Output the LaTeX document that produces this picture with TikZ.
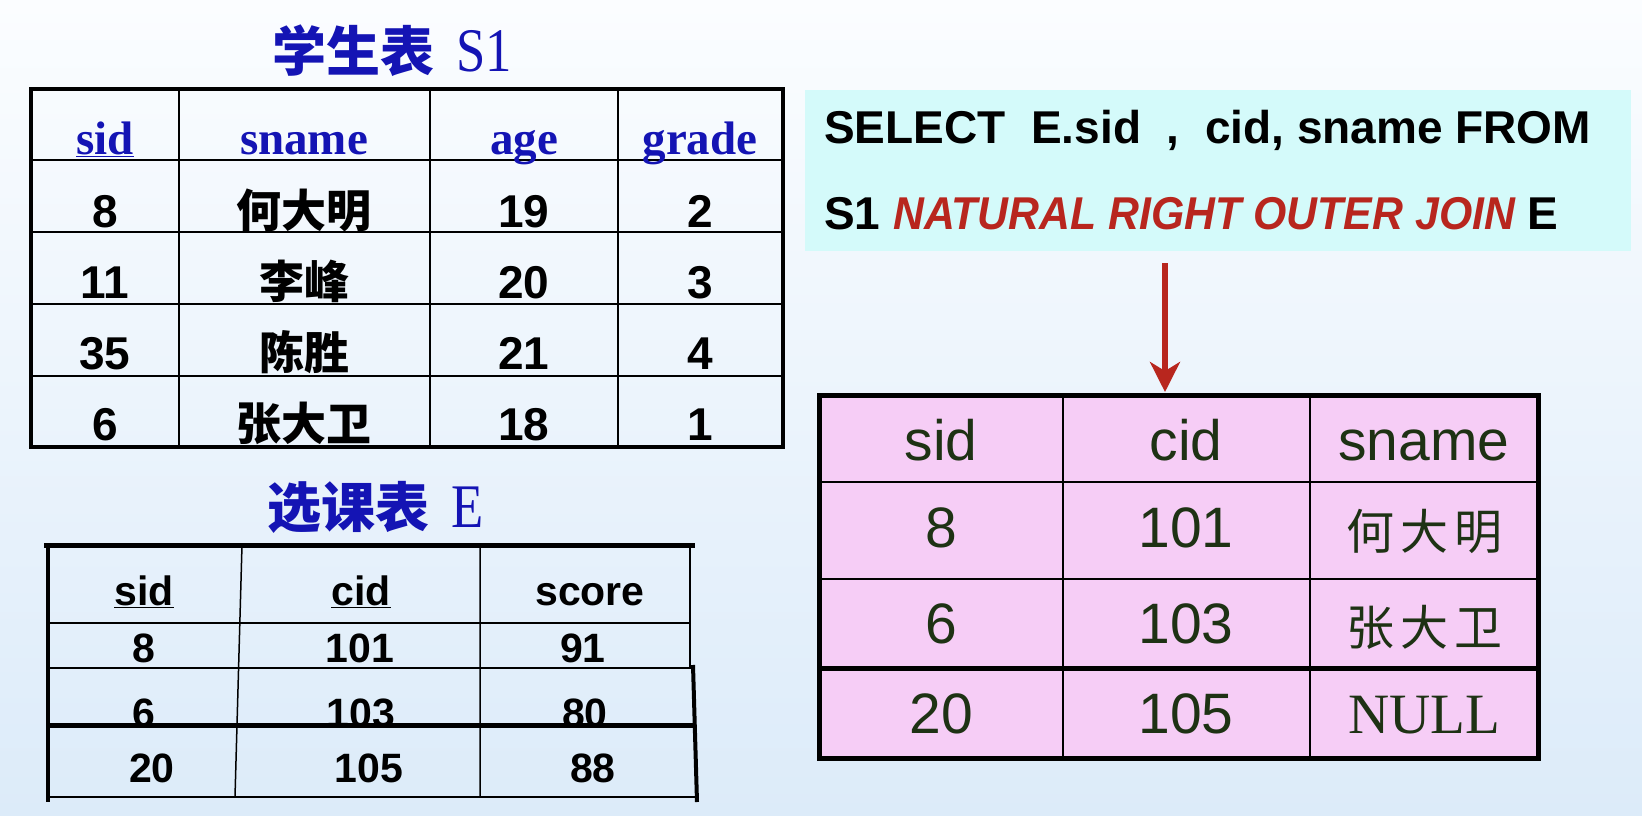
\documentclass[tikz,border=0pt]{standalone}
\usepackage{fontspec}
\setmainfont{Liberation Sans}
\newfontfamily\timesf{Liberation Serif}
\newfontfamily\cjkf{Noto Sans CJK SC}
\usetikzlibrary{arrows.meta}
\definecolor{ttlblue}{HTML}{1414B4}
\definecolor{sqlred}{HTML}{B8261E}
\definecolor{sqlfill}{HTML}{D4FAFA}
\definecolor{pinkfill}{HTML}{F6CDF6}
\definecolor{restext}{HTML}{1E3214}
\definecolor{bgtop}{HTML}{FBFDFF}
\definecolor{bgbot}{HTML}{DCEBF9}

\begin{document}
\begin{tikzpicture}[x=1pt,y=-1pt,
    ttl/.style={font=\bfseries\fontsize{54}{58}\selectfont,text=ttlblue,inner sep=0pt},
    hdr/.style={font=\timesf\bfseries\fontsize{47}{50}\selectfont,text=ttlblue,anchor=base,inner sep=0pt},
    num/.style={font=\bfseries\fontsize{46}{50}\selectfont,anchor=base,inner sep=0pt},
    hanz/.style={font=\cjkf\bfseries\fontsize{45}{50}\selectfont,anchor=base,inner sep=0pt},
    enum/.style={font=\bfseries\fontsize{41}{46}\selectfont,anchor=base,inner sep=0pt},
    sqltxt/.style={font=\bfseries\fontsize{46}{50}\selectfont,anchor=base west,inner sep=0pt},
    res/.style={font=\fontsize{57}{60}\selectfont,text=restext,anchor=base,inner sep=0pt},
    reshz/.style={font=\cjkf\fontsize{48}{52}\selectfont,text=restext,anchor=base,inner sep=0pt},
    thick/.style={line width=4pt},
    thin/.style={line width=2.2pt},
    redarr/.style={draw=sqlred,line width=6pt,-{Stealth[length=30pt,width=30pt,inset=9pt]}}]
    \useasboundingbox (0,0) rectangle (1642,816);
    \shade[top color=bgtop,bottom color=bgbot] (0,0) rectangle (1642,816);

    % student table S1
    \node[ttl] (s1title) at (392,51) {{\cjkf 学生表}\hspace{22pt}{\timesf\mdseries\fontsize{62}{64}\selectfont\scalebox{0.85}[1]{S1}}};
    \draw[thin] (179,89) -- (179,447) (430,89) -- (430,447) (618,89) -- (618,447)
        (31,160) -- (783,160) (31,232) -- (783,232) (31,304) -- (783,304) (31,376) -- (783,376);
    \draw[thick] (31,89) rectangle (783,447);
    \path (105,154) node[hdr] (h1) {\underline{sid}}
        (304,154) node[hdr] (h2) {sname}
        (524,154) node[hdr] (h3) {age}
        (700,154) node[hdr] (h4) {grade}
        (105,227) node[num] (a1) {8}
        (304,227) node[hanz] (b1) {何大明}
        (524,227) node[num] (c1) {19}
        (700,227) node[num] (d1) {2}
        (105,298) node[num] (a2) {11}
        (304,298) node[hanz] (b2) {李峰}
        (524,298) node[num] (c2) {20}
        (700,298) node[num] (d2) {3}
        (105,369) node[num] (a3) {35}
        (304,369) node[hanz] (b3) {陈胜}
        (524,369) node[num] (c3) {21}
        (700,369) node[num] (d3) {4}
        (105,440) node[num] (a4) {6}
        (304,440) node[hanz] (b4) {张大卫}
        (524,440) node[num] (c4) {18}
        (700,440) node[num] (d4) {1};

    % course table E
    \node[ttl] (etitle) at (376,507) {{\cjkf 选课表}\hspace{22pt}{\timesf\mdseries\fontsize{62}{64}\selectfont\scalebox{0.85}[1]{E}}};
    \draw[line width=5pt] (44,545) -- (695,545);
    \draw[thick] (48,543) -- (48,802);
    \draw[line width=2pt] (690,545) -- (690,668);
    \draw[thick] (693,665) -- (697,802);
    \draw[line width=2pt] (48,623) -- (690,623) (48,668) -- (693,668) (48,797) -- (697,797);
    \draw[line width=1.5pt] (242,545) -- (235,797) (480,545) -- (480,797);
    \path (144,605) node[enum] (eh1) {\underline{sid}}
        (361,605) node[enum] (eh2) {\underline{cid}}
        (590,605) node[enum] (eh3) {score}
        (144,662) node[enum] (ea1) {8}
        (360,662) node[enum] (eb1) {101}
        (583,662) node[enum] (ec1) {91}
        (144,727) node[enum] (ea2) {6}
        (361,727) node[enum] (eb2) {103}
        (585,727) node[enum] (ec2) {80}
        (152,782) node[enum] (ea3) {20}
        (369,782) node[enum] (eb3) {105}
        (593,782) node[enum] (ec3) {88};
    \draw[line width=5pt] (48,725) -- (695,725);

    % query
    \node[fill=sqlfill,minimum width=826pt,minimum height=161pt,anchor=north west,inner sep=0pt] (sql) at (805,90) {};
    \node[sqltxt] (q1) at (824,143) {SELECT\ \ E.sid\ \ , \ cid, sname FROM};
    \node[sqltxt] (q2) at (824,229) {S1 \textcolor{sqlred}{\itshape\scalebox{0.93}[1]{NATURAL RIGHT OUTER JOIN}} E};

    % result table
    \fill[pinkfill] (819,395) rectangle (1538,758);
    \draw[thin] (1063,395) -- (1063,758) (1310,395) -- (1310,758)
        (819,482) -- (1538,482) (819,579) -- (1538,579);
    \draw[line width=5pt] (819,668) -- (1538,668);
    \draw[line width=5pt] (819,395) rectangle (1538,758);
    \coordinate (restop) at (1165,392);
    \coordinate (arrtop) at (sql.south -| restop);
    \draw[redarr] ([yshift=-12pt]arrtop) -- (restop);
    \path (941,460) node[res] (r1) {sid}
        (1186,460) node[res] (r2) {cid}
        (1424,460) node[res] (r3) {sname}
        (941,547) node[res] (ra1) {8}
        (1186,547) node[res] (rb1) {101}
        (1424,549) node[reshz] (rc1) {何\hspace{6pt}大\hspace{6pt}明}
        (941,643) node[res] (ra2) {6}
        (1186,643) node[res] (rb2) {103}
        (1424,645) node[reshz] (rc2) {张\hspace{6pt}大\hspace{6pt}卫}
        (941,733) node[res] (ra3) {20}
        (1186,733) node[res] (rb3) {105}
        (1424,733) node[res,font=\timesf\fontsize{57}{60}\selectfont] (rc3) {NULL};
\end{tikzpicture}
\end{document}
